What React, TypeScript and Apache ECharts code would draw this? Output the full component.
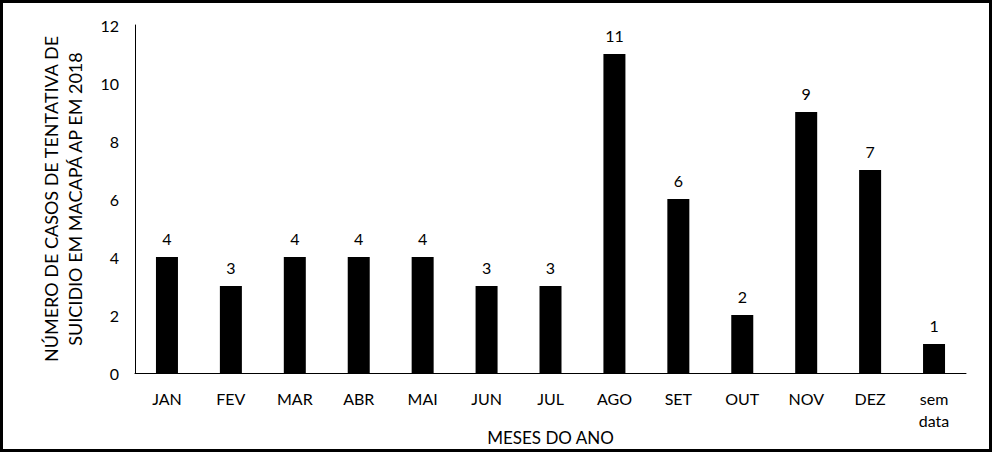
import React, { useEffect, useRef } from "react";
import * as echarts from "echarts";

const categories = ["JAN", "FEV", "MAR", "ABR", "MAI", "JUN", "JUL", "AGO", "SET", "OUT", "NOV", "DEZ", "sem\ndata"];
const values = [4, 3, 4, 4, 4, 3, 3, 11, 6, 2, 9, 7, 1];
const yTitle = "NÚMERO DE CASOS DE TENTATIVA DE\nSUICIDIO EM MACAPÁ AP EM 2018";
const xTitle = "MESES DO ANO";

export default function App() {
  const ref = useRef<HTMLDivElement>(null);
  useEffect(() => {
    if (!ref.current) return;
    const chart = echarts.init(ref.current, undefined, { renderer: "svg" });
    const font = "Lato, 'Open Sans', sans-serif";
    chart.setOption({
      animation: false,
      backgroundColor: "#fff",
      textStyle: { fontFamily: font },
      graphic: [
        {
          type: "rect",
          shape: { x: 1.5, y: 1.5, width: 989, height: 449 },
          style: { fill: "none", stroke: "#000", lineWidth: 3 },
          z: 100,
        },
      ],
      grid: { left: 135, right: 26, top: 25, bottom: 79, outerBoundsMode: "none", containLabel: false },
      xAxis: {
        type: "category",
        data: categories,
        axisLine: { show: true, lineStyle: { color: "#000", width: 1 } },
        axisTick: { show: false },
        axisLabel: { color: "#000", fontSize: 16, fontFamily: font, margin: 14, interval: 0, lineHeight: 22 },
        name: xTitle,
        nameLocation: "middle",
        nameGap: 56,
        nameMoveOverlap: false,
        nameTextStyle: { color: "#000", fontSize: 17, fontFamily: font },
      },
      yAxis: {
        type: "value",
        min: 0,
        max: 12,
        interval: 2,
        axisLine: { show: true, lineStyle: { color: "#000", width: 1 } },
        axisTick: { show: false },
        splitLine: { show: false },
        axisLabel: { color: "#000", fontSize: 16, fontFamily: font, margin: 16 },
        name: yTitle,
        nameLocation: "middle",
        nameGap: 48,
        nameMoveOverlap: false,
        nameTextStyle: { color: "#000", fontSize: 18, fontFamily: font, lineHeight: 24 },
      },
      series: [
        {
          type: "bar",
          data: values,
          barWidth: 22,
          itemStyle: { color: "#000" },
          label: { show: true, position: "top", color: "#000", fontSize: 16, fontFamily: font, distance: 11 },
        },
      ],
    });
    return () => chart.dispose();
  }, []);
  return (
    <div
      ref={ref}
      style={{ position: "fixed", left: 0, top: 0, width: 992, height: 452 }}
    />
  );
}
